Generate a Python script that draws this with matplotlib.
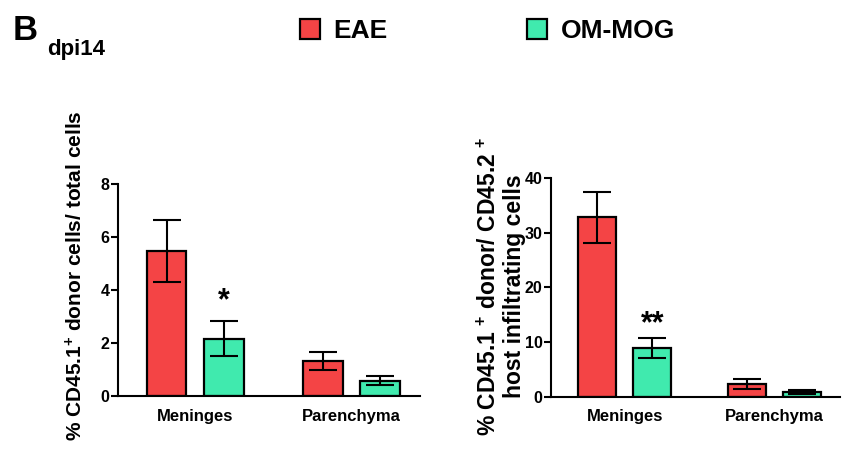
import numpy as np
import matplotlib
matplotlib.use('Agg')
import matplotlib.pyplot as plt

plt.rcParams['font.family'] = ['Liberation Sans', 'DejaVu Sans']
plt.rcParams['font.weight'] = 'bold'
plt.rcParams['mathtext.fontset'] = 'custom'
plt.rcParams['mathtext.rm'] = 'Liberation Sans:bold'
plt.rcParams['mathtext.bf'] = 'Liberation Sans:bold'
plt.rcParams['mathtext.default'] = 'bf'

# groups and conditions
gruppok = ['Meninges', 'Parenchyma']
csoportok = ['EAE', 'OM-MOG']
szinek = ['#F44445', '#40EAAE']

# % CD45.1+ donor cells / total cells
total_atlag = {'EAE': [5.48, 1.32], 'OM-MOG': [2.16, 0.58]}
total_hiba = {'EAE': [1.17, 0.33], 'OM-MOG': [0.66, 0.17]}
total_csillag = ['*', '']

# % CD45.1+ donor / CD45.2+ host infiltrating cells
host_atlag = {'EAE': [32.8, 2.3], 'OM-MOG': [8.9, 0.9]}
host_hiba = {'EAE': [4.6, 0.9], 'OM-MOG': [1.8, 0.4]}
host_csillag = ['**', '']

fig = plt.figure(figsize=(8.42, 4.7), dpi=100)
ax1 = fig.add_axes([118 / 842, 74 / 470, 302 / 842, 212 / 470])
ax2 = fig.add_axes([551 / 842, 73.3 / 470, 289 / 842, 218.7 / 470])

x = np.arange(len(gruppok))
szel = 0.255
eltol = 0.184


def panel(ax, atlag, hiba, csillag, ymax, lepes, csillag_pt):
    for i, cs in enumerate(csoportok):
        pos = x + (2 * i - 1) * eltol
        ax.bar(pos, atlag[cs], width=szel, color=szinek[i], edgecolor='black',
               linewidth=1.6, label=cs, zorder=2)
        ax.errorbar(pos, atlag[cs], yerr=hiba[cs], fmt='none', ecolor='black',
                    elinewidth=1.5, capsize=10, capthick=1.5, zorder=3)
    # significance marks above the OM-MOG bars
    for j, s in enumerate(csillag):
        if s:
            top = atlag['OM-MOG'][j] + hiba['OM-MOG'][j]
            ax.annotate(s, (x[j] + eltol, top), xytext=(0, csillag_pt),
                        textcoords='offset points', ha='center', va='baseline',
                        fontsize=22, fontweight='bold')
    ax.set_xlim(-0.495, 1.44)
    ax.set_ylim(0, ymax)
    ax.set_yticks(np.arange(0, ymax + 0.1, lepes))
    ax.set_xticks(x)
    ax.set_xticklabels(gruppok, fontsize=12, fontweight='bold')
    ax.tick_params(axis='x', length=0, pad=9)
    ax.tick_params(axis='y', length=5, width=1.5, labelsize=11.5, pad=1)
    for t in ax.get_yticklabels():
        t.set_fontweight('bold')
    ax.spines['top'].set_visible(False)
    ax.spines['right'].set_visible(False)
    ax.spines['left'].set_linewidth(1.5)
    ax.spines['bottom'].set_linewidth(1.5)


panel(ax1, total_atlag, total_hiba, total_csillag, 8, 2, 8.5)
panel(ax2, host_atlag, host_hiba, host_csillag, 40, 10, 4)

ax1.set_ylabel(r'% CD45.1$^{+}$ donor cells/ total cells', fontsize=15, fontweight='bold')
ax1.yaxis.set_label_coords(-0.104, 0.566)
ax2.set_ylabel('% CD45.1 $^{+}$ donor/ CD45.2 $^{+}$\nhost infiltrating cells',
               fontsize=16.5, fontweight='bold', linespacing=1.15)
ax2.yaxis.set_label_coords(-0.085, 0.506)

fig.text(13 / 842, 1 - 40 / 470, 'B', fontsize=25, fontweight='bold', va='baseline')
fig.text(47 / 842, 1 - 55 / 470, 'dpi14', fontsize=16, fontweight='bold', va='baseline')

h, l = ax1.get_legend_handles_labels()
fig.legend(h, l, loc='center left', bbox_to_anchor=(300 / 842, 1 - 31 / 470),
           ncol=2, frameon=False, fontsize=19, handlelength=0.76, handleheight=0.76,
           handletextpad=0.5, columnspacing=5.3, borderpad=0, borderaxespad=0)

fig.savefig('out.png', dpi=100)
